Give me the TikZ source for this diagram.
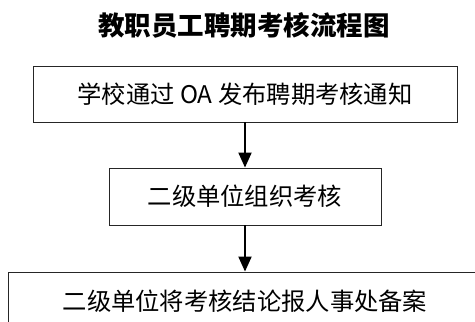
\documentclass[tikz,border=0pt]{standalone}
\usepackage{fontspec}
\setmainfont{Noto Sans CJK SC}
\usetikzlibrary{arrows.meta}
\begin{document}
\begin{tikzpicture}[x=1pt,y=-1pt,
  stepbox/.style={draw=black!85, line width=0.9pt, rectangle, inner sep=0pt, font=\fontsize{24.3}{27}\selectfont},
  flow/.style={line width=2pt, -{Triangle[width=13pt,length=15pt]}},
  titletext/.style={font=\fontsize{26.5}{30}\selectfont\bfseries}]
\useasboundingbox (0,0) rectangle (475,322);
\clip (0,0) rectangle (475,322);
\node[titletext] (title) at (244,25) {教职员工聘期考核流程图};
\node[stepbox, minimum width=424pt, minimum height=56pt] (s1) at (245,94) {学校通过 OA 发布聘期考核通知};
\node[stepbox, minimum width=272pt, minimum height=57pt] (s2) at (245,196.5) {二级单位组织考核};
\node[stepbox, minimum width=474pt, minimum height=58pt] (s3) at (245,301) {二级单位将考核结论报人事处备案};
\draw[flow] (s1.south) -- (s2.north);
\draw[flow] (s2.south) -- (s3.north);
\end{tikzpicture}
\end{document}
